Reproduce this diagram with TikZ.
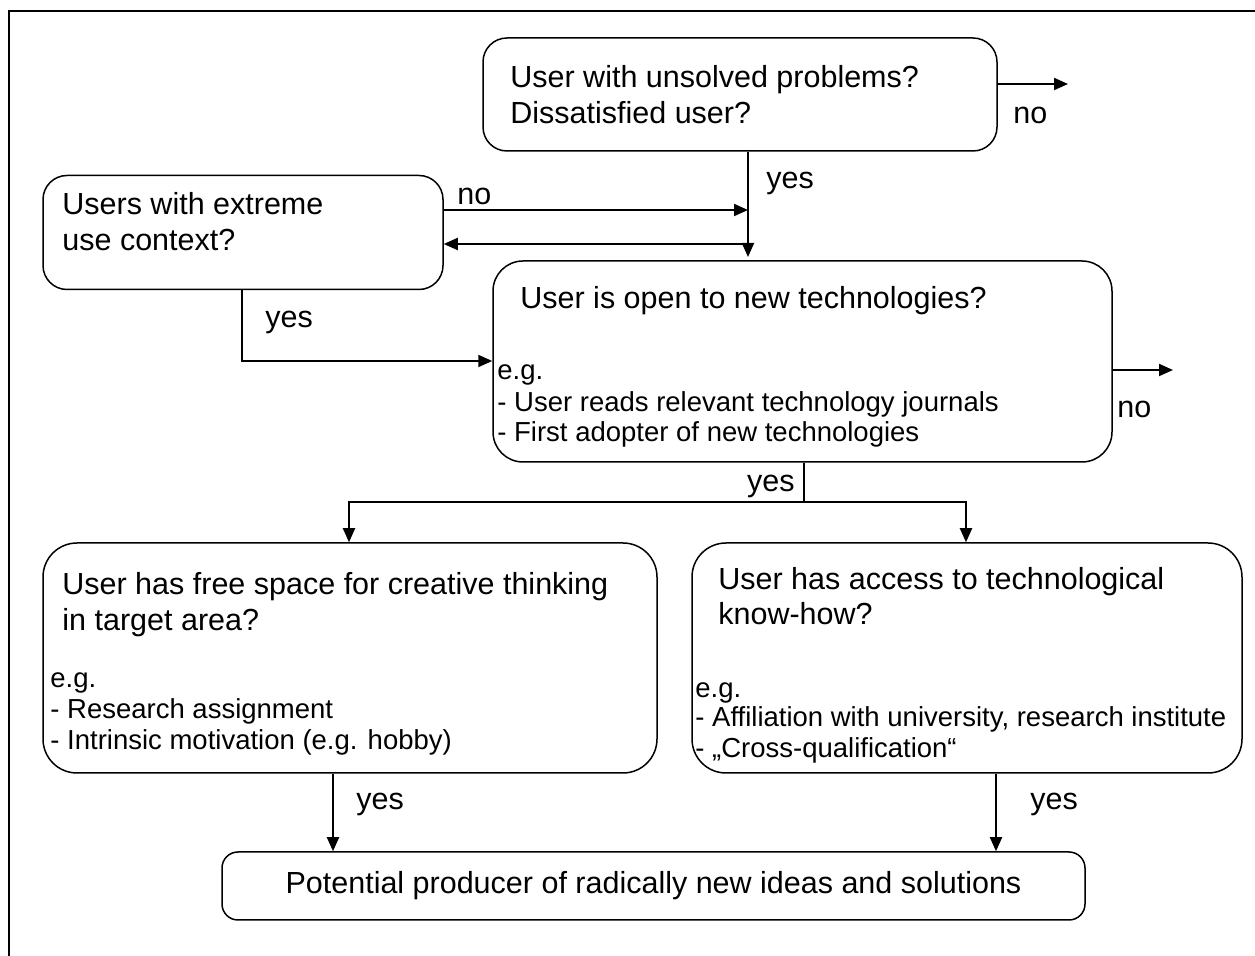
\documentclass[tikz,border=0pt]{standalone}
\usepackage{fontspec}
\setmainfont{Liberation Sans}
\usetikzlibrary{arrows.meta}
\pgfdeclarelayer{edgelayer}
\pgfdeclarelayer{nodelayer}
\pgfsetlayers{edgelayer,nodelayer,main}
\tikzstyle{none}=[inner sep=0pt]
\tikzstyle{bigtext}=[inner sep=0pt, anchor=base west, font=\fontsize{15.25}{18}\selectfont]
\tikzstyle{smalltext}=[inner sep=0pt, anchor=base west, font=\fontsize{13.75}{16}\selectfont]
\tikzstyle{box}=[draw=black, line width=0.75pt, rounded corners=12pt, inner sep=0pt, font=\fontsize{15.25}{18}\selectfont]
\tikzstyle{line}=[draw=black, line width=1pt]
\tikzstyle{edge}=[draw=black, line width=1pt, -{Triangle[length=7pt,width=6pt]}]

\begin{document}
\begin{tikzpicture}[x=0.5pt, y=-0.5pt]
				\useasboundingbox (0, 0) rectangle (1255, 956);
				\begin{pgfonlayer}{nodelayer}
					\node [style=box, minimum width=257pt, minimum height=56.5pt] (0) at (740, 94.5) {};
					\node [style=box, minimum width=200pt, minimum height=57pt] (1) at (243, 232.5) {};
					\node [style=box, minimum width=309.5pt, minimum height=100.5pt, rounded corners=15pt] (2) at (802.5, 361.5) {};
					\node [style=box, minimum width=307pt, minimum height=115pt, rounded corners=17pt] (3) at (350, 658) {};
					\node [style=box, minimum width=275pt, minimum height=115pt, rounded corners=17pt] (4) at (967, 658) {};
					\node [style=box, minimum width=431.5pt, minimum height=34pt, rounded corners=8pt] (5) at (653.5, 886) {Potential producer of radically new ideas and solutions};
					\node [style=bigtext] (6) at (510, 88) {User with unsolved problems?};
					\node [style=bigtext] (7) at (510, 124) {Dissatisfied user?};
					\node [style=bigtext] (8) at (62, 215) {Users with extreme};
					\node [style=bigtext] (9) at (62, 251) {use context?};
					\node [style=bigtext] (10) at (520, 309) {User is open to new technologies?};
					\node [style=smalltext] (11) at (497, 380) {e.g.};
					\node [style=smalltext] (12) at (497, 412) {- User reads relevant technology journals};
					\node [style=smalltext] (13) at (497, 442) {- First adopter of new technologies};
					\node [style=bigtext] (14) at (62, 595) {User has free space for creative thinking};
					\node [style=bigtext] (15) at (62, 631) {in target area?};
					\node [style=smalltext] (16) at (50, 688) {e.g.};
					\node [style=smalltext] (17) at (50, 719) {- Research assignment};
					\node [style=smalltext] (18) at (50, 750) {- Intrinsic motivation (e.g. hobby)};
					\node [style=bigtext] (19) at (718, 590) {User has access to technological};
					\node [style=bigtext] (20) at (718, 625) {know-how?};
					\node [style=smalltext] (21) at (695, 698) {e.g.};
					\node [style=smalltext] (22) at (695, 727) {- Affiliation with university, research institute};
					\node [style=smalltext] (23) at (695, 758) {- „Cross-qualification“};
					\node [style=bigtext] (24) at (1013, 124) {no};
					\node [style=bigtext] (25) at (766, 189) {yes};
					\node [style=bigtext] (26) at (457, 205) {no};
					\node [style=bigtext] (27) at (265, 328) {yes};
					\node [style=bigtext] (28) at (1117, 418) {no};
					\node [style=bigtext, anchor=base east] (29) at (795, 492) {yes};
					\node [style=bigtext] (30) at (356, 810) {yes};
					\node [style=bigtext] (31) at (1030, 810) {yes};
				\end{pgfonlayer}
				\begin{pgfonlayer}{edgelayer}
					\draw [style=line] (9, 963) rectangle (1262, 11);
					\coordinate (40) at (1068, 84);
					\coordinate (41) at (748, 257);
					\coordinate (42) at (748, 210);
					\coordinate (43) at (748, 244);
					\coordinate (44) at (242, 361);
					\coordinate (45) at (1173, 370);
					\coordinate (46) at (804, 502);
					\coordinate (47) at (349, 502);
					\coordinate (48) at (966, 502);
					\coordinate (49) at (333, 852);
					\coordinate (50) at (996, 852);
					\draw [style=edge] (40 -| 0.east) to (40);
					\draw [style=edge] (41 |- 0.south) to (41);
					\draw [style=edge] (42 -| 1.east) to (42);
					\draw [style=edge] (43) to (43 -| 1.east);
					\draw [style=edge] (44 |- 1.south) -- (44) -- (44 -| 2.west);
					\draw [style=edge] (45 -| 2.east) to (45);
					\draw [style=line] (46 |- 2.south) to (46);
					\draw [style=edge] (46) -- (47) -- (47 |- 3.north);
					\draw [style=edge] (46) -- (48) -- (48 |- 4.north);
					\draw [style=edge] (49 |- 3.south) to (49 |- 5.north);
					\draw [style=edge] (50 |- 4.south) to (50 |- 5.north);
				\end{pgfonlayer}
			\end{tikzpicture}
\end{document}
